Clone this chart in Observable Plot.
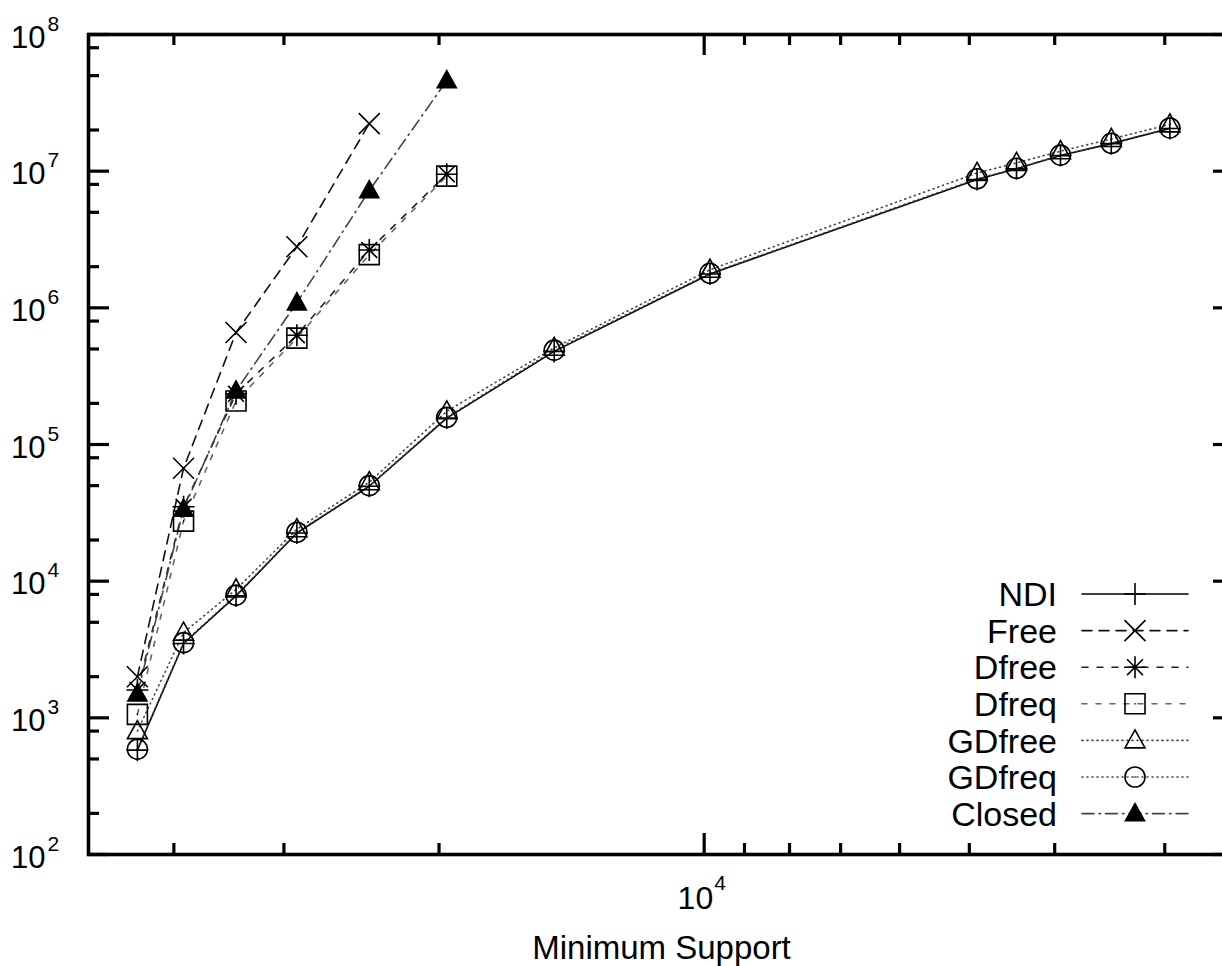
<!DOCTYPE html>
<html>
<head>
<meta charset="utf-8">
<script src="https://cdn.jsdelivr.net/npm/d3@7"></script>
<script src="https://cdn.jsdelivr.net/npm/@observablehq/plot@0.6"></script>
<style>
  html, body { margin: 0; padding: 0; background: #fff; overflow: hidden; }
  svg { max-width: none !important; }
</style>
</head>
<body>
<div id="chart"></div>
<script>
// ---------- data ----------
const support = [44000, 39000, 34000, 29000, 24000, 19600, 14800, 9850, 4900, 4420, 3940, 3450, 2960];

const seriesNames = ["NDI", "Free", "Dfree", "Dfreq", "GDfree", "GDfreq", "Closed"];

const ndiValues    = [580, 3500, 7800, 22500, 49500, 156000, 480000, 1770000, 8700000, 10400000, 13000000, 15900000, 20500000];
const freeValues   = [2000, 67000, 660000, 2800000, 22300000];
const dfreeValues  = [1600, 35000, 235000, 630000, 2650000, 9500000];
const dfreqValues  = [1060, 27500, 208000, 600000, 2450000, 9200000];
const gdfreeValues = [800, 4200, 8700, 24000, 53000, 175000, 510000, 1900000, 9700000, 11500000, 14000000, 17200000, 22000000];
const gdfreqValues = [590, 3550, 7900, 22800, 50000, 158000, 490000, 1790000, 8800000, 10500000, 13100000, 16000000, 20700000];
const closedValues = [1500, 33700, 247000, 1090000, 7200000, 46000000];

const yMajorTicks = [1e2, 1e3, 1e4, 1e5, 1e6, 1e7, 1e8];
const yTickExponents = ["2", "3", "4", "5", "6", "7", "8"];
const yMinorMultipliers = [2, 5, 8];
const xMajorTicks = [1e4];
const xTickExponents = ["4"];
const xMinorTicks = [40000, 30000, 20000, 9000, 8000, 7000, 6000, 5000, 4000, 3000];
const xLabel = "Minimum Support";

// ---------- build table ----------
const valuesBySeries = {
  NDI: ndiValues, Free: freeValues, Dfree: dfreeValues, Dfreq: dfreqValues,
  GDfree: gdfreeValues, GDfreq: gdfreqValues, Closed: closedValues
};
const rows = [];
for (const name of seriesNames) {
  valuesBySeries[name].forEach((v, i) => rows.push({series: name, support: support[i], count: v}));
}
const yMinorTicks = [];
for (let k = 0; k < yMajorTicks.length - 1; k++) {
  for (const m of yMinorMultipliers) yMinorTicks.push(yMajorTicks[k] * m);
}

// ---------- gnuplot-like point symbols ----------
const rad = s => Math.sqrt(s / Math.PI);
const symPlus = {draw(c, s) { const r = rad(s); c.moveTo(-r, 0); c.lineTo(r, 0); c.moveTo(0, -r); c.lineTo(0, r); }};
const symTimes = {draw(c, s) { const r = rad(s); c.moveTo(-r, -r); c.lineTo(r, r); c.moveTo(-r, r); c.lineTo(r, -r); }};
const symStar = {draw(c, s) { const r = rad(s); const q = r * 0.72;
  c.moveTo(-r, 0); c.lineTo(r, 0); c.moveTo(0, -r); c.lineTo(0, r);
  c.moveTo(-q, -q); c.lineTo(q, q); c.moveTo(-q, q); c.lineTo(q, -q); }};
const symSquare = {draw(c, s) { const r = rad(s); c.moveTo(-r, -r); c.lineTo(r, -r); c.lineTo(r, r); c.lineTo(-r, r); c.closePath();
  c.moveTo(-0.6, 0); c.lineTo(0.6, 0); }};
const symTriangle = {draw(c, s) { const r = rad(s); c.moveTo(0, -r * 1.05); c.lineTo(r, r * 0.75); c.lineTo(-r, r * 0.75); c.closePath(); }};
const symCircle = {draw(c, s) { const r = rad(s); c.moveTo(r, 0); c.arc(0, 0, r, 0, 2 * Math.PI);
  c.moveTo(-0.6, 0); c.lineTo(0.6, 0); }};

const styles = {
  NDI:    {stroke: "#000", dash: null,          sym: symPlus,     r: 11,   fill: "none"},
  Free:   {stroke: "#111", dash: "10,7",        sym: symTimes,    r: 10.5, fill: "none"},
  Dfree:  {stroke: "#222", dash: "6,9",         sym: symStar,     r: 11,   fill: "none"},
  Dfreq:  {stroke: "#666", dash: "5,9",         sym: symSquare,   r: 10,   fill: "none"},
  GDfree: {stroke: "#444", dash: "1,4",         sym: symTriangle, r: 10,   fill: "none"},
  GDfreq: {stroke: "#444", dash: "1,4",         sym: symCircle,   r: 10,   fill: "none"},
  Closed: {stroke: "#444", dash: "12,5,1.5,5",  sym: symTriangle, r: 9.5,  fill: "#000"}
};

// ---------- geometry ----------
const W = 1242, H = 966;
const mL = 88, mR = 8, mT = 34, mB = 112;
const fw = W - mL - mR, fh = H - mT - mB;
const FONT = "'Liberation Sans', Arial, Helvetica, sans-serif";

const marks = [];
for (const name of seriesNames) {
  const st = styles[name];
  const data = rows.filter(d => d.series === name);
  marks.push(Plot.line(data, {x: "support", y: "count", stroke: st.stroke, strokeWidth: 1.6,
    strokeDasharray: st.dash ?? undefined}));
}
for (const name of seriesNames) {
  const st = styles[name];
  const data = rows.filter(d => d.series === name);
  marks.push(Plot.dot(data, {x: "support", y: "count", symbol: st.sym, r: st.r,
    stroke: "#000", strokeWidth: 1.6, fill: st.fill}));
}
marks.push(
  Plot.tickY(yMajorTicks, {y: d => d, insetRight: fw - 21, strokeWidth: 3.2}),
  Plot.tickY(yMajorTicks, {y: d => d, insetLeft: fw - 21, strokeWidth: 3.2}),
  Plot.tickY(yMinorTicks, {y: d => d, insetRight: fw - 11, strokeWidth: 3.2}),
  Plot.tickY(yMinorTicks, {y: d => d, insetLeft: fw - 11, strokeWidth: 3.2}),
  Plot.tickX(xMajorTicks, {x: d => d, insetTop: fh - 21, strokeWidth: 3.2}),
  Plot.tickX(xMajorTicks, {x: d => d, insetBottom: fh - 21, strokeWidth: 3.2}),
  Plot.tickX(xMinorTicks, {x: d => d, insetTop: fh - 11, strokeWidth: 3.2}),
  Plot.tickX(xMinorTicks, {x: d => d, insetBottom: fh - 11, strokeWidth: 3.2}),
  Plot.frame({stroke: "#000", strokeWidth: 3.6})
);
marks.push(
  Plot.text(yMajorTicks, {y: d => d, frameAnchor: "left", text: () => "10", textAnchor: "end",
    dx: -43, dy: 13, lineAnchor: "bottom", fontSize: 31, fill: "#000"}),
  Plot.text(yMajorTicks, {y: d => d, frameAnchor: "left", text: (d, i) => yTickExponents[i], textAnchor: "start",
    dx: -41, dy: -4, lineAnchor: "bottom", fontSize: 21, fill: "#000"}),
  Plot.text(xMajorTicks, {x: d => d, frameAnchor: "bottom", text: () => "10", textAnchor: "end",
    dx: 9, dy: 54, lineAnchor: "bottom", fontSize: 32, fill: "#000"}),
  Plot.text(xMajorTicks, {x: d => d, frameAnchor: "bottom", text: (d, i) => xTickExponents[i], textAnchor: "start",
    dx: 10, dy: 35, lineAnchor: "bottom", fontSize: 21, fill: "#000"}),
  Plot.text([xLabel], {frameAnchor: "bottom", text: d => d, dy: 104, lineAnchor: "bottom", fontSize: 33, fill: "#000"})
);

const chart = Plot.plot({
  width: W, height: H,
  marginLeft: mL, marginRight: mR, marginTop: mT, marginBottom: mB,
  style: {fontFamily: FONT, background: "#fff", maxWidth: "none", overflow: "visible"},
  x: {type: "log", domain: [50000, 2500], axis: null},
  y: {type: "log", domain: [1e2, 1e8], axis: null},
  marks
});
document.getElementById("chart").appendChild(chart);

// ---------- legend (gnuplot style key) ----------
const svg = d3.select(chart);
const key = svg.append("g").attr("font-family", FONT).attr("font-size", 34);
const keyTextRight = 1057, keyLineX1 = 1082, keyLineX2 = 1188, keyMarkX = 1135;
const keyY0 = 594, keyStep = 36.6;
seriesNames.forEach((name, i) => {
  const st = styles[name];
  const y = keyY0 + i * keyStep;
  key.append("text").attr("x", keyTextRight).attr("y", y).attr("dy", "0.36em")
    .attr("text-anchor", "end").attr("fill", "#000").text(name);
  key.append("line").attr("x1", keyLineX1).attr("x2", keyLineX2).attr("y1", y).attr("y2", y)
    .attr("stroke", st.stroke).attr("stroke-width", 1.6).attr("stroke-linecap", "round")
    .attr("stroke-dasharray", st.dash);
  key.append("path").attr("transform", `translate(${keyMarkX},${y})`)
    .attr("d", d3.symbol(st.sym, st.r * st.r * Math.PI)())
    .attr("fill", st.fill).attr("stroke", "#000").attr("stroke-width", 1.6);
});
</script>
</body>
</html>
